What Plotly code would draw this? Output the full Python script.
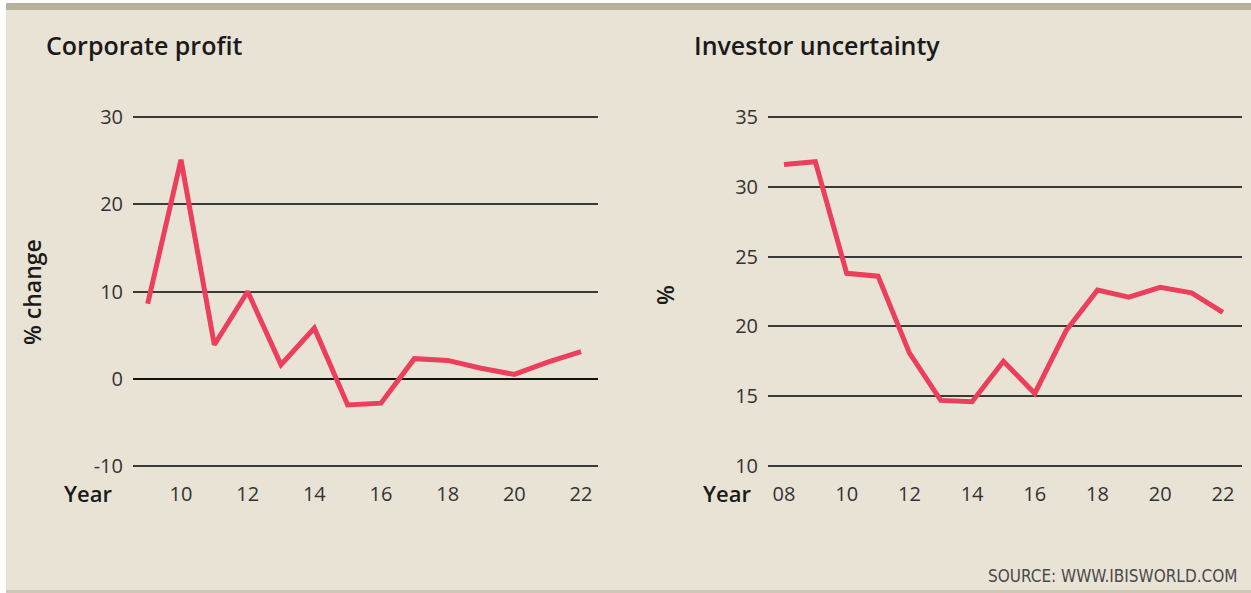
import plotly.graph_objects as go

# ---- data ----
years_profit = [9, 10, 11, 12, 13, 14, 15, 16, 17, 18, 19, 20, 21, 22]
profit_change = [8.6, 25.1, 3.9, 10.0, 1.6, 5.8, -3.0, -2.8, 2.3, 2.1, 1.2, 0.5, 1.9, 3.1]

years_unc = [8, 9, 10, 11, 12, 13, 14, 15, 16, 17, 18, 19, 20, 21, 22]
uncertainty = [31.6, 31.8, 23.8, 23.6, 18.1, 14.7, 14.6, 17.5, 15.2, 19.7, 22.6, 22.1, 22.8, 22.4, 21.0]

profit_xticks = [10, 12, 14, 16, 18, 20, 22]
profit_xlabels = ["10", "12", "14", "16", "18", "20", "22"]
profit_yticks = [-10, 0, 10, 20, 30]
profit_ylabels = ["-10", "0", "10", "20", "30"]

unc_xticks = [8, 10, 12, 14, 16, 18, 20, 22]
unc_xlabels = ["08", "10", "12", "14", "16", "18", "20", "22"]
unc_yticks = [10, 15, 20, 25, 30, 35]
unc_ylabels = ["10", "15", "20", "25", "30", "35"]

W, H = 1251, 593
BG = "#e9e3d6"
RED = "#ec3f5c"
GRID = "#3a3a3a"
TXT = "#333333"
FONT = "Open Sans"


def px(x):
    return x / W


def py(y):
    return 1 - y / H


fig = go.Figure()
fig.add_trace(go.Scatter(x=years_profit, y=profit_change, mode="lines",
                         line=dict(color=RED, width=5), xaxis="x", yaxis="y",
                         hoverinfo="skip"))
fig.add_trace(go.Scatter(x=years_unc, y=uncertainty, mode="lines",
                         line=dict(color=RED, width=5), xaxis="x2", yaxis="y2",
                         hoverinfo="skip"))

# left panel geometry: 30 at y=117, -10 at y=466
l_ppu = (466 - 117) / 40.0
l_pad = 0.3
l_top = 117 - l_pad * l_ppu
l_bot = 466 + l_pad * l_ppu
# right panel: 35 at 117, 10 at 466
r_ppu = (466 - 117) / 25.0
r_pad = 0.2
r_top = 117 - r_pad * r_ppu
r_bot = 466 + r_pad * r_ppu

tickfont = dict(family=FONT, size=20, color=TXT)

xaxis_common = dict(showgrid=False, zeroline=False, showline=False, ticks="outside",
                    ticklen=7, tickcolor="rgba(0,0,0,0)", tickfont=tickfont,
                    fixedrange=True, automargin=False)
yaxis_common = dict(showgrid=True, gridcolor=GRID, gridwidth=1.8, showline=False,
                    ticks="outside", ticklen=5, tickcolor="rgba(0,0,0,0)",
                    tickfont=tickfont, fixedrange=True, automargin=False)

fig.update_layout(
    width=W, height=H,
    autosize=False,
    margin=dict(l=0, r=0, t=0, b=0, pad=0),
    paper_bgcolor="white",
    plot_bgcolor="rgba(0,0,0,0)",
    showlegend=False,
    xaxis=dict(domain=[px(133), px(598)], range=[8.56, 22.51],
               tickvals=profit_xticks, ticktext=profit_xlabels, anchor="y",
               **xaxis_common),
    yaxis=dict(domain=[py(l_bot), py(l_top)], range=[-10 - l_pad, 30 + l_pad],
               tickvals=profit_yticks, ticktext=profit_ylabels, zeroline=True,
               zerolinecolor="#111111", zerolinewidth=2, anchor="x", **yaxis_common),
    xaxis2=dict(domain=[px(768), px(1242)], range=[7.49, 22.61],
                tickvals=unc_xticks, ticktext=unc_xlabels, anchor="y2",
                **xaxis_common),
    yaxis2=dict(domain=[py(r_bot), py(r_top)], range=[10 - r_pad, 35 + r_pad],
                tickvals=unc_yticks, ticktext=unc_ylabels, zeroline=False, anchor="x2",
                **yaxis_common),
    shapes=[
        dict(type="rect", xref="paper", yref="paper", x0=px(6), x1=1, y0=py(591), y1=py(10),
             fillcolor=BG, line=dict(width=0), layer="below"),
        dict(type="rect", xref="paper", yref="paper", x0=px(6), x1=1, y0=py(10), y1=py(3),
             fillcolor="#b8b19c", line=dict(width=0), layer="below"),
        dict(type="rect", xref="paper", yref="paper", x0=px(6), x1=1, y0=py(593), y1=py(590),
             fillcolor="#cfc8b6", line=dict(width=0), layer="below"),
    ],
    annotations=[
        dict(text="Corporate profit", x=px(44), y=py(45), xref="paper", yref="paper",
             xanchor="left", yanchor="middle", showarrow=False,
             font=dict(family=FONT, size=25, color="#1a1a1a", weight=600)),
        dict(text="Investor uncertainty", x=px(692), y=py(45), xref="paper", yref="paper",
             xanchor="left", yanchor="middle", showarrow=False,
             font=dict(family=FONT, size=25, color="#1a1a1a", weight=600)),
        dict(text="% change", x=px(32), y=py(292), xref="paper", yref="paper",
             textangle=-90, xanchor="center", yanchor="middle", showarrow=False,
             font=dict(family=FONT, size=23, color="#1a1a1a", weight=600)),
        dict(text="%", x=px(665), y=py(295), xref="paper", yref="paper",
             textangle=-90, xanchor="center", yanchor="middle", showarrow=False,
             font=dict(family=FONT, size=23, color="#1a1a1a", weight=600)),
        dict(text="Year", x=px(88), y=py(493), xref="paper", yref="paper",
             xanchor="center", yanchor="middle", showarrow=False,
             font=dict(family=FONT, size=22, color="#1a1a1a", weight=600)),
        dict(text="Year", x=px(727), y=py(493), xref="paper", yref="paper",
             xanchor="center", yanchor="middle", showarrow=False,
             font=dict(family=FONT, size=22, color="#1a1a1a", weight=600)),
        dict(text="SOURCE: WWW.IBISWORLD.COM", x=px(1239), y=py(576), xref="paper", yref="paper",
             xanchor="right", yanchor="middle", showarrow=False,
             font=dict(family="DejaVu Sans Condensed", size=17, color="#4a4a4a")),
    ],
)

post = (
    "document.documentElement.style.margin='0';"
    "document.documentElement.style.overflow='hidden';"
    "document.body.style.margin='0';document.body.style.padding='0';"
    "document.body.style.overflow='hidden';"
)

fig.write_html("out.html", config={"displayModeBar": False}, post_script=post)
